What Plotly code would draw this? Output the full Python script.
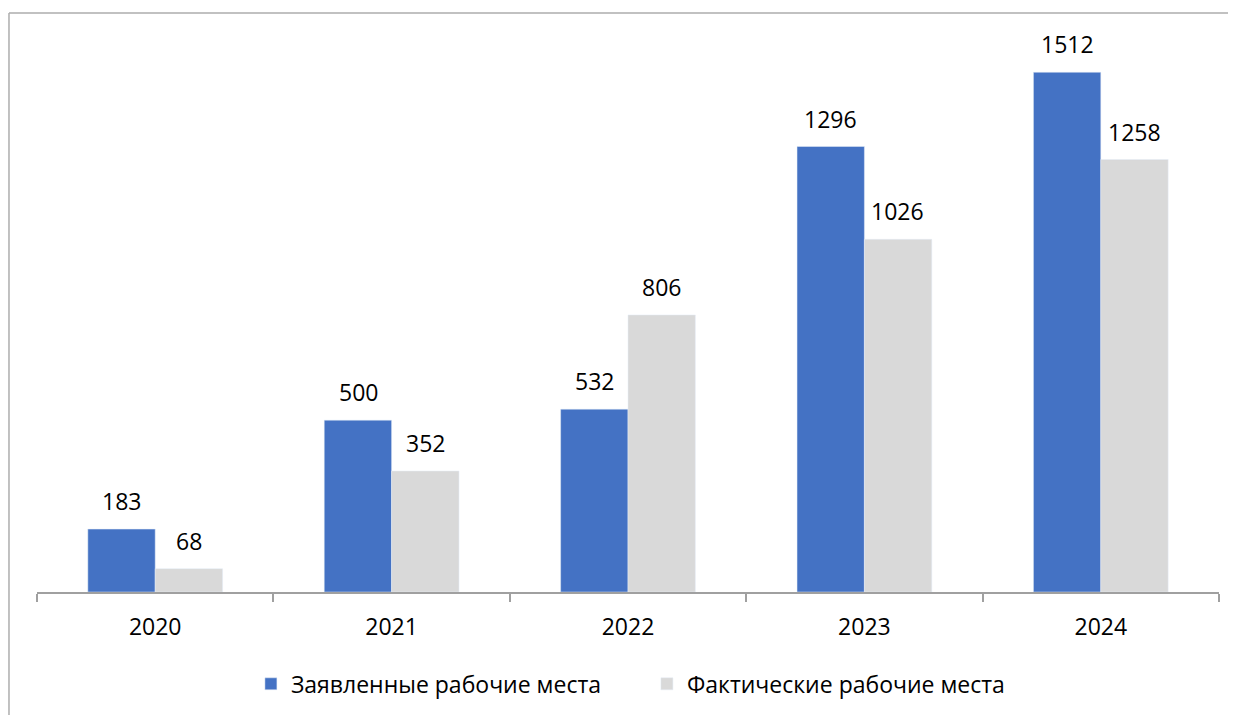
import plotly.graph_objects as go

years = ["2020", "2021", "2022", "2023", "2024"]
declared = [183, 500, 532, 1296, 1512]
actual = [68, 352, 806, 1026, 1258]
series_names = ["Заявленные рабочие места", "Фактические рабочие места"]

FONT = "Open Sans"
fig = go.Figure()
fig.add_trace(go.Bar(x=years, y=declared, name=series_names[0], marker_color="#4472C4"))
fig.add_trace(go.Bar(x=years, y=actual, name=series_names[1], marker_color="#D9D9D9"))

annotations = []
for vals, shift in ((declared, -33.5), (actual, 33.5)):
    for i, v in enumerate(vals):
        annotations.append(dict(x=i, y=v, text=str(v), showarrow=False, xshift=shift,
                                yshift=28, yanchor="middle", xref="x", yref="y",
                                font=dict(family=FONT, size=23, color="#000000")))

fig.update_layout(
    width=1236, height=715,
    margin=dict(l=29, r=25, t=34, b=131),
    paper_bgcolor="white", plot_bgcolor="white",
    barmode="group", bargap=0.43, bargroupgap=0,
    font=dict(family=FONT, size=23, color="#000000"),
    showlegend=True,
    legend=dict(orientation="h", x=0.516, xanchor="center", y=-0.167, yanchor="middle",
                font=dict(family=FONT, size=23, color="#000000"), itemwidth=30,
                traceorder="normal", entrywidth=351, entrywidthmode="pixels"),
    xaxis=dict(type="category", range=[-0.5, 4.5], showline=True, linecolor="#A0A0A0",
               linewidth=1.5, ticks="outside",
               tickson="boundaries", ticklen=8, tickcolor="#A0A0A0", tickwidth=1.5,
               tickangle=0, ticklabelstandoff=14,
               tickfont=dict(family=FONT, size=23, color="#000000"), showgrid=False),
    yaxis=dict(range=[0, 1600], visible=False, showgrid=False),
    annotations=annotations,
    shapes=[
        dict(type="line", xref="paper", yref="paper", x0=-0.0237, x1=1.03, y0=1.0527, y1=1.0527,
             line=dict(color="#ADADAD", width=1.5)),
        dict(type="line", xref="paper", yref="paper", x0=-0.0237, x1=-0.0237, y0=1.0527, y1=-0.25,
             line=dict(color="#ADADAD", width=1.5)),
    ],
)
fig.write_html("out.html")
